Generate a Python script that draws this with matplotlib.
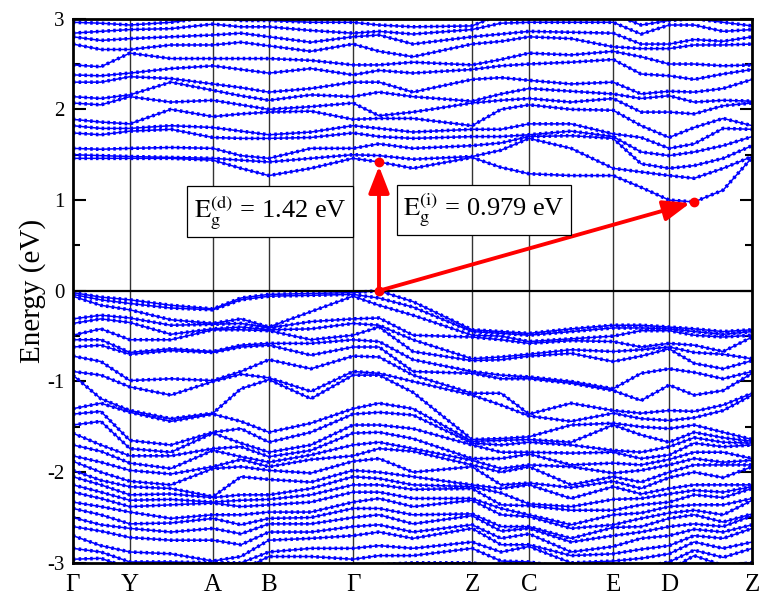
"""
Band structure along the path G-Y-A-B-G-Z-C-E-D-Z with the direct and
indirect gaps marked by arrows.
"""

import matplotlib.pyplot as plt
import numpy as np

# path length of every sampled k-point (arbitrary units)
kdist = [0, 28, 57, 98, 140, 168, 196, 238, 280, 306, 340,
         399, 428, 456, 498, 540, 568, 596, 621, 650, 679]

# high-symmetry points
ksym = [0, 57, 140, 196, 280, 399, 456, 540, 596, 679]
klabels = ['Γ', 'Y', 'A', 'B', 'Γ', 'Z', 'C', 'E', 'D', 'Z']

# conduction band eigenvalues (eV) at each k-point, lowest band first
G_c = [1.46, 1.50, 1.57, 1.74, 1.82, 1.89, 2.07, 2.14, 2.30, 2.38, 2.49, 2.72, 2.80, 2.84, 2.96, 3.08]
GY_c = [1.46, 1.49, 1.56, 1.72, 1.79, 1.86, 2.05, 2.12, 2.30, 2.37, 2.47, 2.66, 2.76, 2.86, 2.95, 3.08]
Y_c = [1.46, 1.48, 1.57, 1.76, 1.79, 1.84, 2.14, 2.16, 2.36, 2.40, 2.62, 2.66, 2.78, 2.88, 2.93, 3.05]
YA_c = [1.46, 1.47, 1.58, 1.78, 1.82, 2.00, 2.08, 2.30, 2.34, 2.45, 2.56, 2.71, 2.80, 2.89, 2.96, 3.10]
A_c = [1.44, 1.46, 1.57, 1.69, 1.80, 1.92, 2.10, 2.21, 2.28, 2.48, 2.56, 2.71, 2.82, 2.94, 3.02, 3.15]
AB_c = [1.35, 1.44, 1.49, 1.68, 1.76, 1.95, 2.05, 2.15, 2.24, 2.44, 2.56, 2.74, 2.84, 2.91, 2.98, 3.10]
B_c = [1.27, 1.42, 1.46, 1.68, 1.72, 1.97, 2.00, 2.10, 2.19, 2.40, 2.56, 2.70, 2.80, 2.91, 2.98, 3.08]
BG_c = [1.35, 1.46, 1.57, 1.69, 1.75, 1.98, 2.03, 2.16, 2.23, 2.45, 2.54, 2.64, 2.74, 2.87, 2.96, 3.05]
GZ1_c = [1.42, 1.49, 1.62, 1.70, 1.79, 1.90, 1.93, 2.19, 2.30, 2.43, 2.49, 2.64, 2.82, 2.86, 2.93, 3.05]
GZ2_c = [1.35, 1.45, 1.57, 1.68, 1.75, 1.90, 1.97, 2.14, 2.19, 2.40, 2.52, 2.58, 2.72, 2.83, 2.91, 3.02]
Z_c = [1.47, 1.48, 1.60, 1.70, 1.78, 1.82, 2.07, 2.09, 2.33, 2.44, 2.49, 2.72, 2.80, 2.88, 2.92, 3.05]
ZC_c = [1.36, 1.55, 1.63, 1.70, 1.78, 2.00, 2.10, 2.17, 2.35, 2.48, 2.55, 2.75, 2.83, 2.95, 3.05, 3.12]
C_c = [1.29, 1.68, 1.70, 1.72, 1.84, 2.05, 2.12, 2.23, 2.32, 2.50, 2.62, 2.80, 2.86, 2.96, 3.06, 3.14]
CE_c = [1.27, 1.57, 1.71, 1.76, 1.84, 2.00, 2.08, 2.20, 2.28, 2.52, 2.60, 2.78, 2.85, 2.96, 3.05, 3.14]
E_c = [1.27, 1.35, 1.68, 1.70, 1.73, 1.99, 2.12, 2.17, 2.30, 2.55, 2.64, 2.69, 2.84, 2.96, 3.05, 3.14]
ED_c = [1.14, 1.31, 1.40, 1.53, 1.69, 1.82, 1.97, 2.12, 2.17, 2.39, 2.58, 2.67, 2.72, 2.83, 2.93, 3.05]
D_c = [1.00, 1.27, 1.35, 1.49, 1.57, 1.69, 1.97, 2.15, 2.20, 2.37, 2.50, 2.67, 2.72, 2.93, 2.98, 3.05]
DZ1_c = [0.979, 1.24, 1.38, 1.53, 1.62, 1.80, 1.95, 2.08, 2.19, 2.33, 2.50, 2.71, 2.77, 2.93, 3.00, 3.08]
DZ2_c = [1.11, 1.35, 1.46, 1.60, 1.79, 1.90, 2.04, 2.10, 2.23, 2.39, 2.48, 2.71, 2.75, 2.86, 2.96, 3.05]

# valence band eigenvalues (eV) at each k-point, highest band first
G_v = [-0.02, -0.04, -0.06, -0.31, -0.36, -0.49, -0.54, -0.62, -0.72, -0.89, -0.93, -1.30, -1.36, -1.48, -1.57,
       -1.70, -1.82, -1.88, -1.98, -2.05, -2.14, -2.22, -2.33, -2.40, -2.50, -2.60, -2.70, -2.84, -2.96, -3.08]
GY_v = [-0.07, -0.10, -0.16, -0.27, -0.31, -0.42, -0.54, -0.60, -0.78, -0.93, -1.19, -1.24, -1.33, -1.44, -1.70,
        -1.77, -1.89, -2.00, -2.09, -2.14, -2.22, -2.29, -2.38, -2.47, -2.58, -2.65, -2.81, -2.88, -2.95, -3.08]
Y_v = [-0.10, -0.14, -0.21, -0.30, -0.35, -0.54, -0.68, -0.70, -0.99, -1.06, -1.32, -1.34, -1.65, -1.74, -1.82,
       -1.90, -1.98, -2.10, -2.16, -2.25, -2.31, -2.38, -2.44, -2.57, -2.62, -2.72, -2.88, -2.99, -3.06, -3.15]
YA_v = [-0.16, -0.19, -0.32, -0.38, -0.48, -0.54, -0.64, -0.66, -0.97, -1.15, -1.41, -1.44, -1.70, -1.78, -1.82,
        -1.96, -2.02, -2.14, -2.18, -2.24, -2.30, -2.36, -2.51, -2.56, -2.66, -2.75, -2.90, -2.99, -3.08, -3.15]
A_v = [-0.20, -0.21, -0.36, -0.37, -0.42, -0.43, -0.67, -0.68, -0.99, -1.00, -1.35, -1.36, -1.56, -1.57, -1.74,
       -1.76, -1.94, -1.96, -2.27, -2.28, -2.33, -2.34, -2.47, -2.51, -2.62, -2.75, -2.98, -3.00, -3.10, -3.20]
AB_v = [-0.08, -0.10, -0.31, -0.36, -0.40, -0.43, -0.60, -0.62, -0.89, -0.92, -1.08, -1.44, -1.52, -1.68, -1.72,
        -1.83, -1.86, -1.94, -2.05, -2.25, -2.31, -2.38, -2.47, -2.58, -2.68, -2.80, -2.93, -3.00, -3.08, -3.15]
B_v = [-0.04, -0.06, -0.40, -0.41, -0.43, -0.44, -0.58, -0.60, -0.76, -0.96, -0.98, -1.56, -1.67, -1.78, -1.83,
       -1.89, -1.94, -1.98, -2.08, -2.25, -2.30, -2.36, -2.44, -2.51, -2.57, -2.66, -2.75, -2.88, -2.93, -3.05]
BG_v = [-0.03, -0.05, -0.23, -0.34, -0.42, -0.54, -0.58, -0.71, -0.86, -1.11, -1.19, -1.46, -1.56, -1.70, -1.76,
        -1.81, -1.86, -2.01, -2.11, -2.18, -2.25, -2.33, -2.44, -2.50, -2.57, -2.66, -2.73, -2.84, -2.93, -3.05]
GZ1_v = [0.00, -0.08, -0.16, -0.30, -0.38, -0.40, -0.56, -0.62, -0.73, -0.91, -0.93, -1.24, -1.34, -1.48, -1.56,
         -1.67, -1.74, -1.85, -2.00, -2.07, -2.14, -2.22, -2.29, -2.40, -2.47, -2.58, -2.66, -2.81, -2.92, -3.02]
GZ2_v = [-0.12, -0.18, -0.27, -0.49, -0.54, -0.67, -0.76, -0.89, -0.93, -1.00, -1.12, -1.30, -1.37, -1.52, -1.63,
         -1.74, -1.77, -2.00, -2.05, -2.14, -2.19, -2.29, -2.38, -2.47, -2.57, -2.66, -2.73, -2.84, -2.92, -3.00]
Z_v = [-0.43, -0.45, -0.49, -0.51, -0.75, -0.77, -0.89, -0.91, -1.13, -1.15, -1.64, -1.66, -1.68, -1.70, -1.85,
       -1.87, -1.92, -1.94, -2.14, -2.16, -2.18, -2.29, -2.31, -2.46, -2.48, -2.58, -2.62, -2.77, -2.84, -3.00]
ZC_v = [-0.45, -0.47, -0.50, -0.54, -0.73, -0.76, -0.93, -0.97, -1.13, -1.26, -1.63, -1.65, -1.70, -1.78, -1.85,
        -1.96, -2.00, -2.14, -2.18, -2.23, -2.36, -2.40, -2.47, -2.60, -2.65, -2.73, -2.80, -2.88, -2.98, -3.05]
C_v = [-0.47, -0.49, -0.56, -0.58, -0.70, -0.72, -0.95, -0.97, -1.36, -1.38, -1.61, -1.64, -1.67, -1.78, -1.80,
       -1.92, -1.94, -2.12, -2.14, -2.35, -2.37, -2.47, -2.49, -2.60, -2.62, -2.68, -2.80, -2.82, -2.99, -3.05]
CE_v = [-0.42, -0.45, -0.53, -0.55, -0.65, -0.69, -1.00, -1.02, -1.24, -1.44, -1.48, -1.67, -1.70, -1.79, -1.92,
        -1.94, -2.14, -2.17, -2.29, -2.38, -2.42, -2.58, -2.62, -2.73, -2.77, -2.88, -2.92, -3.00, -3.06, -3.12]
E_v = [-0.38, -0.41, -0.50, -0.56, -0.67, -0.78, -1.08, -1.10, -1.32, -1.35, -1.46, -1.48, -1.76, -1.78, -1.90,
       -2.01, -2.05, -2.10, -2.16, -2.30, -2.42, -2.47, -2.58, -2.61, -2.70, -2.82, -2.90, -2.98, -3.06, -3.12]
ED_v = [-0.38, -0.41, -0.44, -0.62, -0.65, -0.72, -0.91, -1.21, -1.35, -1.41, -1.50, -1.59, -1.78, -1.85, -1.92,
        -1.98, -2.11, -2.18, -2.24, -2.29, -2.36, -2.45, -2.51, -2.60, -2.66, -2.73, -2.85, -2.95, -3.05, -3.12]
D_v = [-0.40, -0.42, -0.44, -0.58, -0.62, -0.64, -0.86, -1.04, -1.32, -1.43, -1.52, -1.67, -1.72, -1.81, -1.86,
       -1.92, -2.00, -2.06, -2.18, -2.24, -2.33, -2.38, -2.45, -2.51, -2.60, -2.70, -2.81, -2.90, -2.99, -3.08]
DZ1_v = [-0.42, -0.45, -0.49, -0.60, -0.68, -0.80, -0.90, -1.15, -1.33, -1.40, -1.48, -1.56, -1.62, -1.68, -1.78,
         -1.85, -1.92, -2.00, -2.14, -2.20, -2.25, -2.36, -2.42, -2.47, -2.57, -2.63, -2.70, -2.77, -2.86, -2.92]
DZ2_v = [-0.45, -0.48, -0.51, -0.67, -0.70, -0.86, -0.97, -1.10, -1.26, -1.32, -1.56, -1.62, -1.67, -1.72, -1.78,
         -1.89, -1.92, -2.06, -2.14, -2.22, -2.28, -2.36, -2.47, -2.55, -2.60, -2.66, -2.73, -2.84, -2.94, -3.03]

# band edges and gaps (eV)
vbm_k, vbm = 306, 0.0
cbm_k, cbm = 621, 0.979
gap_direct = 1.42
gap_indirect = 0.979


def band_structure(file_path):
    """Plot the bands, the high-symmetry lines and the gap arrows."""
    plt.rcParams['font.family'] = ['Liberation Serif', 'DejaVu Serif']
    plt.rcParams['mathtext.fontset'] = 'stix'

    cond = np.array([G_c, GY_c, Y_c, YA_c, A_c, AB_c, B_c, BG_c, G_c, GZ1_c, GZ2_c,
                     Z_c, ZC_c, C_c, CE_c, E_c, ED_c, D_c, DZ1_c, DZ2_c, Z_c])
    val = np.array([G_v, GY_v, Y_v, YA_v, A_v, AB_v, B_v, BG_v, G_v, GZ1_v, GZ2_v,
                    Z_v, ZC_v, C_v, CE_v, E_v, ED_v, D_v, DZ1_v, DZ2_v, Z_v])

    fig = plt.figure(figsize=(7.59, 6.02), dpi=100)
    ax = fig.add_axes([0.096, 0.065, 0.895, 0.904])

    # bands: thin line plus a dashed overlay that looks like square markers
    for bands in (cond, val):
        for n in range(bands.shape[1]):
            ax.plot(kdist, bands[:, n], color='#0000ff', lw=1.1, zorder=2)
            ax.plot(kdist, bands[:, n], color='#0000ff', lw=2.6,
                    ls=(0, (0.7, 0.9)), dash_capstyle='butt', zorder=2)

    # high-symmetry lines and the Fermi level
    for k in ksym[1:-1]:
        ax.axvline(k, color='0.2', lw=1.0, zorder=1)
    ax.axhline(vbm, color='black', lw=1.6, zorder=3)

    # gap arrows
    arrow = dict(arrowstyle='-|>,head_length=0.9,head_width=0.35', color='red',
                 lw=2.8, shrinkA=0, shrinkB=3, mutation_scale=18)
    ax.annotate('', xy=(vbm_k, vbm + gap_direct), xytext=(vbm_k, vbm),
                arrowprops=arrow, zorder=5)
    ax.annotate('', xy=(cbm_k, cbm), xytext=(vbm_k, vbm),
                arrowprops=arrow, zorder=5)
    ax.plot([vbm_k, vbm_k, cbm_k], [vbm, vbm + gap_direct, cbm], 'o',
            color='red', ms=6, zorder=6, clip_on=False)

    box = dict(boxstyle='square,pad=0.25', fc='white', ec='black', lw=0.9)
    ax.text(197, 0.87, r'$\mathrm{E_g^{(d)}}$' + ' = {:.2f} eV'.format(gap_direct),
            fontsize=19, ha='center', va='center', bbox=box, zorder=7)
    ax.text(411, 0.89, r'$\mathrm{E_g^{(i)}}$' + ' = {:.3f} eV'.format(gap_indirect),
            fontsize=19, ha='center', va='center', bbox=box, zorder=7)

    # axes
    ax.set_xlim(kdist[0], kdist[-1])
    ax.set_ylim(-3, 3)
    ax.set_xticks(ksym)
    ax.set_xticklabels(klabels, fontsize=18)
    ax.tick_params(axis='x', length=0, pad=8)
    ax.set_yticks(np.arange(-3, 4, 1))
    ax.set_yticks(np.arange(-2.5, 3, 1), minor=True)
    ax.set_yticklabels(['-3', '-2', '-1', '0', '1', '2', '3'], fontsize=15)
    ax.tick_params(axis='y', which='major', direction='in', length=9, width=1.5,
                   left=True, right=True, pad=6)
    ax.tick_params(axis='y', which='minor', direction='in', length=5, width=1.5,
                   left=True, right=True)
    for s in ax.spines.values():
        s.set_linewidth(2.0)
    ax.set_ylabel('Energy (eV)', fontsize=21, labelpad=1)

    plt.savefig(file_path, dpi=100)


band_structure('out.png')
